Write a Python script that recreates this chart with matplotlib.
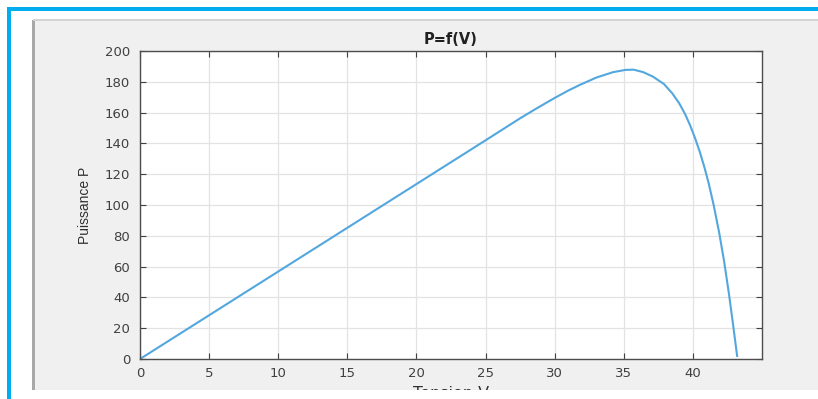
import matplotlib
matplotlib.use('Agg')
import matplotlib.pyplot as plt
from matplotlib.patches import Rectangle
from matplotlib.transforms import Bbox, TransformedBbox

plt.rcParams['font.family'] = ['DejaVu Sans']

# values
tension = [0, 5, 10, 15, 20, 25, 27.5, 28.8, 30, 31, 31.8, 33, 34.2, 35.1,
           35.7, 36.4, 37.1, 37.9, 38.5, 39, 39.45, 39.8, 40.15, 40.5, 40.85,
           41.15, 41.5, 41.9, 42.25, 42.6, 42.9, 43.2]
puissance = [0, 28.4, 56.8, 85.2, 113.6, 142, 156.3, 163.3, 169.5, 174.4,
             177.9, 182.7, 186.2, 187.7, 187.9, 186.3, 183.4, 178.6, 172.6,
             166.2, 158.8, 151.7, 143.6, 134.5, 124, 113.8, 100.1, 82.1, 63.9,
             42.9, 22.8, 2]

x_ticks = [0, 5, 10, 15, 20, 25, 30, 35, 40]
y_ticks = [0, 20, 40, 60, 80, 100, 120, 140, 160, 180, 200]

W, H = 818, 399
fig = plt.figure(figsize=(W / 100, H / 100), dpi=100)
fig.patch.set_facecolor('white')


def px_rect(x0, y0, x1, y1, color):
    # pixel box measured from the top-left corner of the image
    r = Rectangle((x0 / W, 1 - y1 / H), (x1 - x0) / W, (y1 - y0) / H,
                  transform=fig.transFigure, facecolor=color,
                  edgecolor='none', zorder=-5)
    fig.add_artist(r)


# grey figure panel and the blue frame around it
px_rect(33, 20, 818, 390, '#f0f0f0')
px_rect(32, 20, 34.5, 390, '#a8a8a8')
px_rect(33, 19.5, 818, 21, '#d4d4d4')
px_rect(7, 7, 818, 11, '#00aeef')
px_rect(7, 7, 11, 399, '#00aeef')

ax = fig.add_axes([140 / W, 1 - 359 / H, 622 / W, 308 / H])
ax.set_facecolor('white')
ax.plot(tension, puissance, color='#52a7de', lw=1.5)

ax.set_xlim(0, 45)
ax.set_ylim(0, 200)
ax.set_xticks(x_ticks)
ax.set_yticks(y_ticks)
ax.grid(True, color='#e3e3e3', lw=0.9)
ax.set_axisbelow(True)
ax.tick_params(direction='in', length=4, width=0.8, top=True, right=True,
               colors='#404040', labelsize=9.5)
ax.tick_params(axis='y', pad=7)
ax.tick_params(axis='x', pad=6)
for s in ax.spines.values():
    s.set_color('#4d4d4d')
    s.set_linewidth(1)

ax.set_title('P=f(V)', fontsize=10.5, fontweight='bold', pad=5, color='#202020')
ax.set_ylabel('Puissance P', fontsize=10, labelpad=9, color='#303030',
              family=['Liberation Sans', 'DejaVu Sans'])
xl = ax.set_xlabel('Tension V', fontsize=11.5, labelpad=4, color='#303030')
# the reference panel ends just below the axis, cutting the label in half
xl.set_clip_box(TransformedBbox(Bbox([[0, 1 - 390 / H], [1, 1]]), fig.transFigure))
xl.set_clip_on(True)

fig.savefig('out.png', dpi=100)
